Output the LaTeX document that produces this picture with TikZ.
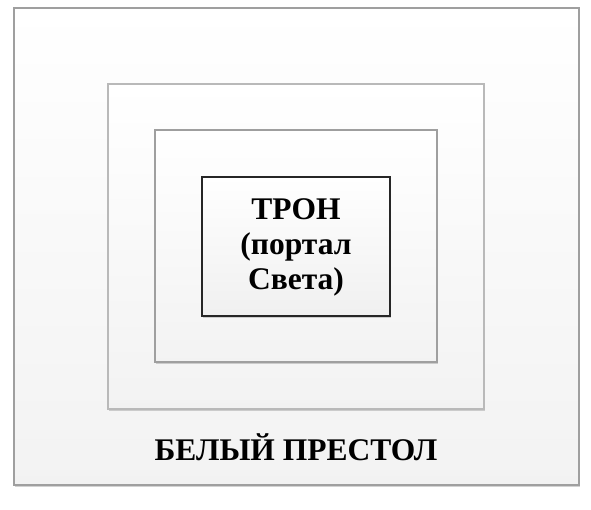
\documentclass[tikz,border=0pt]{standalone}
\usepackage{fontspec}
\setmainfont{Liberation Serif}
\usetikzlibrary{shadows}
\tikzset{
  frame/.style={draw=gray!75, line width=1.3pt, top color=white, bottom color=gray!10,
    drop shadow={shadow xshift=1.2pt, shadow yshift=-1.6pt, opacity=.35}},
  core/.style={draw=black!85, line width=1.5pt, top color=white, bottom color=gray!12,
    drop shadow={shadow xshift=1.2pt, shadow yshift=-1.6pt, opacity=.35}},
  word/.style={font=\fontsize{31.5}{35}\selectfont\bfseries, align=center, inner sep=0pt}
}
\begin{document}
\begin{tikzpicture}[x=1pt,y=-1pt]
\useasboundingbox (0,0) rectangle (591,509);
\fill[white] (0,0) rectangle (591,509);

% nested frames
\draw[frame] (14,8) rectangle (579,485);
\draw[frame, draw=gray!55] (108,84) rectangle (484,409);
\draw[frame] (155,130) rectangle (437,362);
\draw[core] (202,177) rectangle (390,316);

\node[word] (throne) at (296,247) {ТРОН\\(портал\\Света)};
\node[word] (whitethrone) at (296,447) {БЕЛЫЙ ПРЕСТОЛ};
\end{tikzpicture}
\end{document}
